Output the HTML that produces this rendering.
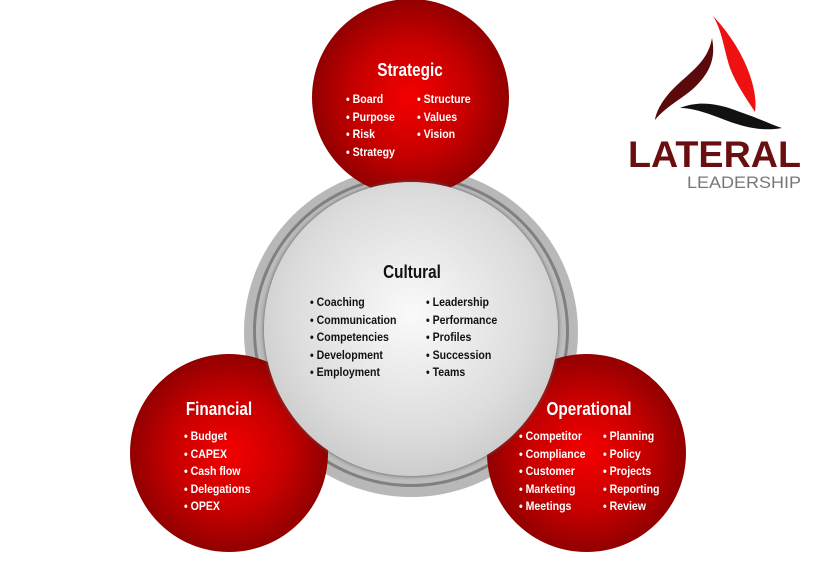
<!DOCTYPE html>
<html><head><meta charset="utf-8"><style>
body{margin:0;width:819px;height:579px;background:#fff;overflow:hidden;position:relative;font-family:"Liberation Sans",sans-serif;font-weight:bold}
.c{position:absolute;border-radius:50%}
.red{background:radial-gradient(circle at 50% 50%,#f40000 0%,#c80000 40%,#8a0000 75%,#5a0000 100%)}
.t{position:absolute;color:#fff;font-size:18px;text-align:center;width:200px;transform:scaleX(0.85)}
.l{position:absolute;color:#fff;font-size:12px;line-height:17.5px;white-space:pre;transform:scaleX(0.88);transform-origin:0 0}
.k{color:#111}
</style></head><body>
<div class="c" style="left:244px;top:167px;width:334px;height:330px;background:radial-gradient(circle,#b8b8b8 80%,#9a9a9a 100%)"></div>
<div class="c" style="left:253px;top:175px;width:316px;height:312px;border:3px solid #808080;box-sizing:border-box;background:#bdbdbd"></div>
<div class="c red" style="left:312px;top:-1px;width:197px;height:197px"></div>
<div class="c red" style="left:130px;top:354px;width:198px;height:198px"></div>
<div class="c red" style="left:487px;top:354px;width:199px;height:198px"></div>
<div class="c" style="left:264px;top:182px;width:294px;height:294px;background:radial-gradient(circle at 50% 45%,#fafafa 0%,#dcdcdc 55%,#b8b8b8 100%);box-shadow:0 0 4px #555"></div>
<div class="t" style="left:310px;top:60px">Strategic</div>
<div class="l" style="left:346px;top:91px">• Board
• Purpose
• Risk
• Strategy</div>
<div class="l" style="left:417px;top:91px">• Structure
• Values
• Vision</div>
<div class="t k" style="left:312px;top:262px;color:#111">Cultural</div>
<div class="l k" style="left:310px;top:294px">• Coaching
• Communication
• Competencies
• Development
• Employment</div>
<div class="l k" style="left:426px;top:294px">• Leadership
• Performance
• Profiles
• Succession
• Teams</div>
<div class="t" style="left:119px;top:399px">Financial</div>
<div class="l" style="left:184px;top:428px">• Budget
• CAPEX
• Cash flow
• Delegations
• OPEX</div>
<div class="t" style="left:489px;top:399px">Operational</div>
<div class="l" style="left:519px;top:428px">• Competitor
• Compliance
• Customer
• Marketing
• Meetings</div>
<div class="l" style="left:603px;top:428px">• Planning
• Policy
• Projects
• Reporting
• Review</div>
<svg style="position:absolute;left:600px;top:0" width="219" height="200">
<path d="M112,38 C108,62 90,72 74,88 C62,100 56,112 55,120 C66,106 84,98 96,86 C110,72 116,58 112,38Z" fill="#5a0a0a"/>
<path d="M113,16 C132,36 146,60 152,82 C156,96 156,106 155,112 C146,98 136,84 130,68 C124,50 122,30 113,16Z" fill="#ee1111"/>
<path d="M80,108 C100,100 120,104 140,112 C158,118 170,124 182,128 C160,132 140,126 120,118 C104,112 92,108 80,108Z" fill="#111"/>
<text x="28" y="167" font-family="Liberation Sans,sans-serif" font-size="37" fill="#6a0f0f" font-weight="bold" textLength="173" lengthAdjust="spacingAndGlyphs">LATERAL</text>
<text x="87" y="188" font-family="Liberation Sans,sans-serif" font-size="17" font-weight="normal" fill="#777" textLength="114" lengthAdjust="spacingAndGlyphs">LEADERSHIP</text>
</svg>
</body></html>
